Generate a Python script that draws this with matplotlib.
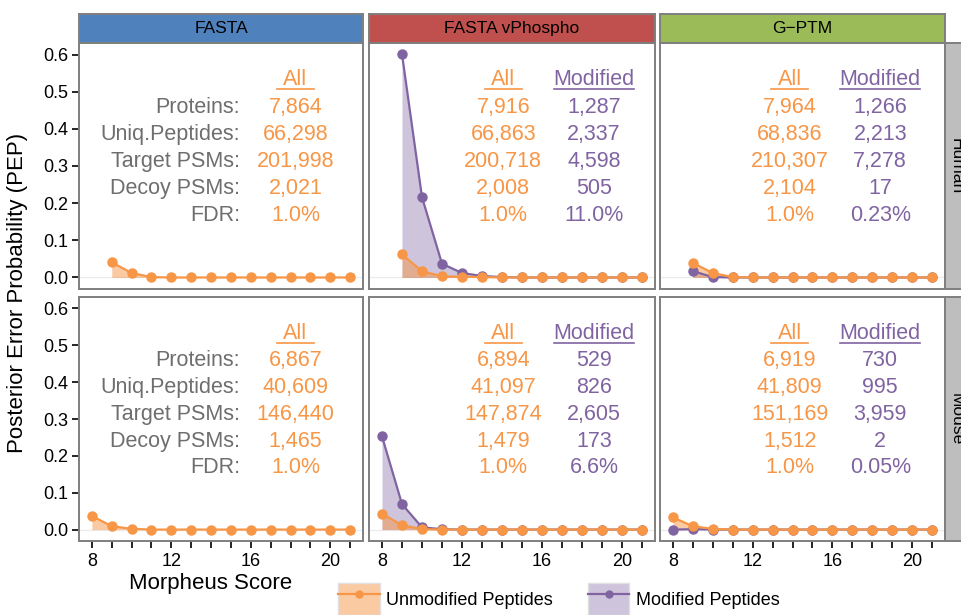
#!/usr/bin/python3

# pep_panels.py
#
# Posterior error probability by Morpheus score, faceted by database and species.
import matplotlib
matplotlib.use('Agg')
import matplotlib.pyplot as plt
from matplotlib.colors import to_rgba
from matplotlib.lines import Line2D
from matplotlib.patches import Patch

plt.rcParams['font.family'] = ['Liberation Sans', 'DejaVu Sans']

ORANGE = '#F79646'
PURPLE = '#8064A2'
GREY_TEXT = '#6E6E6E'
EDGE = '#7F7F7F'

# Facet labels
databases = ['FASTA', 'FASTA vPhospho', 'G\u2212PTM']
strip_colors = ['#4F81BD', '#C0504D', '#9BBB59']
species = ['Human', 'Mouse']

# Morpheus scores for each species
human_scores = [9, 10, 11, 12, 13, 14, 15, 16, 17, 18, 19, 20, 21]
mouse_scores = [8, 9, 10, 11, 12, 13, 14, 15, 16, 17, 18, 19, 20, 21]

# PEP values, human
human_fasta_unmod = [0.041, 0.012, 0.001, 0, 0, 0, 0, 0, 0, 0, 0, 0, 0]
human_vphospho_unmod = [0.062, 0.017, 0.003, 0.002, 0.001, 0, 0, 0, 0, 0, 0, 0, 0]
human_vphospho_mod = [0.601, 0.216, 0.037, 0.012, 0.004, 0.001, 0, 0, 0, 0, 0, 0, 0]
human_gptm_unmod = [0.039, 0.012, 0.001, 0, 0, 0, 0, 0, 0, 0, 0, 0, 0]
human_gptm_mod = [0.017, 0.001, 0, 0, 0, 0, 0, 0, 0, 0, 0, 0, 0]

# PEP values, mouse
mouse_fasta_unmod = [0.037, 0.009, 0.002, 0, 0, 0, 0, 0, 0, 0, 0, 0, 0, 0]
mouse_vphospho_unmod = [0.043, 0.012, 0.001, 0, 0, 0, 0, 0, 0, 0, 0, 0, 0, 0]
mouse_vphospho_mod = [0.253, 0.069, 0.006, 0.001, 0, 0, 0, 0, 0, 0, 0, 0, 0, 0]
mouse_gptm_unmod = [0.033, 0.009, 0.002, 0, 0, 0, 0, 0, 0, 0, 0, 0, 0, 0]
mouse_gptm_mod = [0.0, 0.001, 0, 0, 0, 0, 0, 0, 0, 0, 0, 0, 0, 0]

# Summary tables
stat_labels = ['Proteins:', 'Uniq.Peptides:', 'Target PSMs:', 'Decoy PSMs:', 'FDR:']
human_fasta_all = ['7,864', '66,298', '201,998', '2,021', '1.0%']
human_vphospho_all = ['7,916', '66,863', '200,718', '2,008', '1.0%']
human_vphospho_modified = ['1,287', '2,337', '4,598', '505', '11.0%']
human_gptm_all = ['7,964', '68,836', '210,307', '2,104', '1.0%']
human_gptm_modified = ['1,266', '2,213', '7,278', '17', '0.23%']
mouse_fasta_all = ['6,867', '40,609', '146,440', '1,465', '1.0%']
mouse_vphospho_all = ['6,894', '41,097', '147,874', '1,479', '1.0%']
mouse_vphospho_modified = ['529', '826', '2,605', '173', '6.6%']
mouse_gptm_all = ['6,919', '41,809', '151,169', '1,512', '1.0%']
mouse_gptm_modified = ['730', '995', '3,959', '2', '0.05%']

y_ticks = [0.0, 0.1, 0.2, 0.3, 0.4, 0.5, 0.6]
x_ticks = [8, 9, 10, 11, 12, 13, 14, 15, 16, 17, 18, 19, 20, 21]
x_tick_labels = ['8', '', '', '', '12', '', '', '', '16', '', '', '', '20', '']

# (scores, unmodified, modified, all column, modified column) per panel
panels = [
  [(human_scores, human_fasta_unmod, None, human_fasta_all, None),
   (human_scores, human_vphospho_unmod, human_vphospho_mod, human_vphospho_all, human_vphospho_modified),
   (human_scores, human_gptm_unmod, human_gptm_mod, human_gptm_all, human_gptm_modified)],
  [(mouse_scores, mouse_fasta_unmod, None, mouse_fasta_all, None),
   (mouse_scores, mouse_vphospho_unmod, mouse_vphospho_mod, mouse_vphospho_all, mouse_vphospho_modified),
   (mouse_scores, mouse_gptm_unmod, mouse_gptm_mod, mouse_gptm_all, mouse_gptm_modified)]]

# Pixel layout of the facets
W, H = 962, 615
cols_px = [(79, 363), (369, 655), (660, 945)]
rows_px = [(43, 289), (297, 541)]
header_px = (14, 43)
side_px = (945, 967)

# Text placement (data units) for the table columns
label_x = 15.47
all_x = [18.25, 14.06, 13.86]
mod_x = [None, 18.6, 18.4]
head_y, line_y = 0.532, 0.506
row_y = [0.458, 0.385, 0.313, 0.240, 0.168]


def box(x0, x1, y0, y1):
  return [x0 / W, 1 - y1 / H, (x1 - x0) / W, (y1 - y0) / H]


def style_border(ax):
  for spine in ax.spines.values():
    spine.set_color(EDGE)
    spine.set_linewidth(1.4)


def series(ax, x, y, color, alpha):
  ax.fill_between(x, 0, y, color=color, alpha=alpha, lw=0, zorder=2)


def line(ax, x, y, color):
  ax.plot(x, y, color=color, lw=1.6, marker='o', ms=6.5, mec=color, zorder=3)


def underline(ax, x, half, color):
  ax.plot([x - half, x + half], [line_y, line_y], color=color, lw=1.2, zorder=3)


fig = plt.figure(figsize=(W / 100, H / 100), dpi=100)

for row in range(2):
  for col in range(3):
    scores, unmod, mod, all_col, mod_col = panels[row][col]
    ax = fig.add_axes(box(cols_px[col][0], cols_px[col][1], rows_px[row][0], rows_px[row][1]))
    ax.set_xlim(7.35, 21.65)
    ax.set_ylim(-0.031, 0.631)
    ax.axhline(0, color='#EBEBEB', lw=0.9, zorder=1)

    # Fills first, then the lines on top, unmodified last
    if mod is not None:
      series(ax, scores, mod, PURPLE, 0.38)
    series(ax, scores, unmod, ORANGE, 0.5)
    if mod is not None:
      line(ax, scores, mod, PURPLE)
    line(ax, scores, unmod, ORANGE)

    # Summary table
    if col == 0:
      for label, y in zip(stat_labels, row_y):
        ax.text(label_x, y, label, color=GREY_TEXT, fontsize=15.5, ha='right', va='center')
    ax.text(all_x[col], head_y, 'All', color=ORANGE, fontsize=15.5, ha='center', va='center')
    underline(ax, all_x[col], 0.93, ORANGE)
    for value, y in zip(all_col, row_y):
      ax.text(all_x[col], y, value, color=ORANGE, fontsize=15.5, ha='center', va='center')
    if mod_col is not None:
      ax.text(mod_x[col], head_y, 'Modified', color=PURPLE, fontsize=15.5, ha='center', va='center')
      underline(ax, mod_x[col], 2.0, PURPLE)
      for value, y in zip(mod_col, row_y):
        ax.text(mod_x[col], y, value, color=PURPLE, fontsize=15.5, ha='center', va='center')

    # Axis formatting
    style_border(ax)
    ax.set_xticks(x_ticks)
    ax.set_yticks(y_ticks)
    ax.tick_params(length=5, width=1.2, color='black', labelsize=13, labelcolor='black')
    ax.tick_params(axis='x', pad=4)
    ax.tick_params(axis='y', pad=3)
    if row == 1:
      ax.set_xticklabels(x_tick_labels)
    else:
      ax.tick_params(axis='x', bottom=False, labelbottom=False)
    if col == 0:
      ax.set_yticklabels(['{:.1f}'.format(v) for v in y_ticks])
    else:
      ax.tick_params(axis='y', left=False, labelleft=False)

# Strip headers across the top
for col in range(3):
  sx = fig.add_axes(box(cols_px[col][0], cols_px[col][1], header_px[0], header_px[1]))
  sx.set_facecolor(strip_colors[col])
  sx.set_xticks([])
  sx.set_yticks([])
  style_border(sx)
  sx.text(0.5, 0.5, databases[col], fontsize=12.5, ha='center', va='center', transform=sx.transAxes)

# Strips down the right side (cut by the figure edge as in the original)
for row in range(2):
  sx = fig.add_axes(box(side_px[0], side_px[1], rows_px[row][0], rows_px[row][1]))
  sx.set_facecolor('#BEBEBE')
  sx.set_xticks([])
  sx.set_yticks([])
  style_border(sx)
  sx.text(0.5, 0.5, species[row], fontsize=12.5, rotation=-90, ha='center', va='center',
          transform=sx.transAxes)

# Axis titles
fig.text(18 / W, 1 - 293 / H, 'Posterior Error Probability (PEP)', fontsize=16,
         rotation=90, ha='center', va='center')
fig.text(211 / W, 1 - 583 / H, 'Morpheus Score', fontsize=16, ha='center', va='center')

# Legend
handles = [(Patch(facecolor=to_rgba(ORANGE, 0.5), edgecolor='#E0E0E0'),
            Line2D([], [], color=ORANGE, lw=1.6, marker='o', ms=5)),
           (Patch(facecolor=to_rgba(PURPLE, 0.38), edgecolor='#E0E0E0'),
            Line2D([], [], color=PURPLE, lw=1.6, marker='o', ms=5))]
fig.legend(handles, ['Unmodified Peptides', 'Modified Peptides'], loc='center left',
           bbox_to_anchor=(338 / W, 1 - 599 / H), ncol=2, frameon=False, fontsize=13,
           handlelength=2.3, handleheight=2.4, handletextpad=0.35, columnspacing=1.95,
           borderpad=0, borderaxespad=0)

plt.savefig('out.png')
plt.close()
